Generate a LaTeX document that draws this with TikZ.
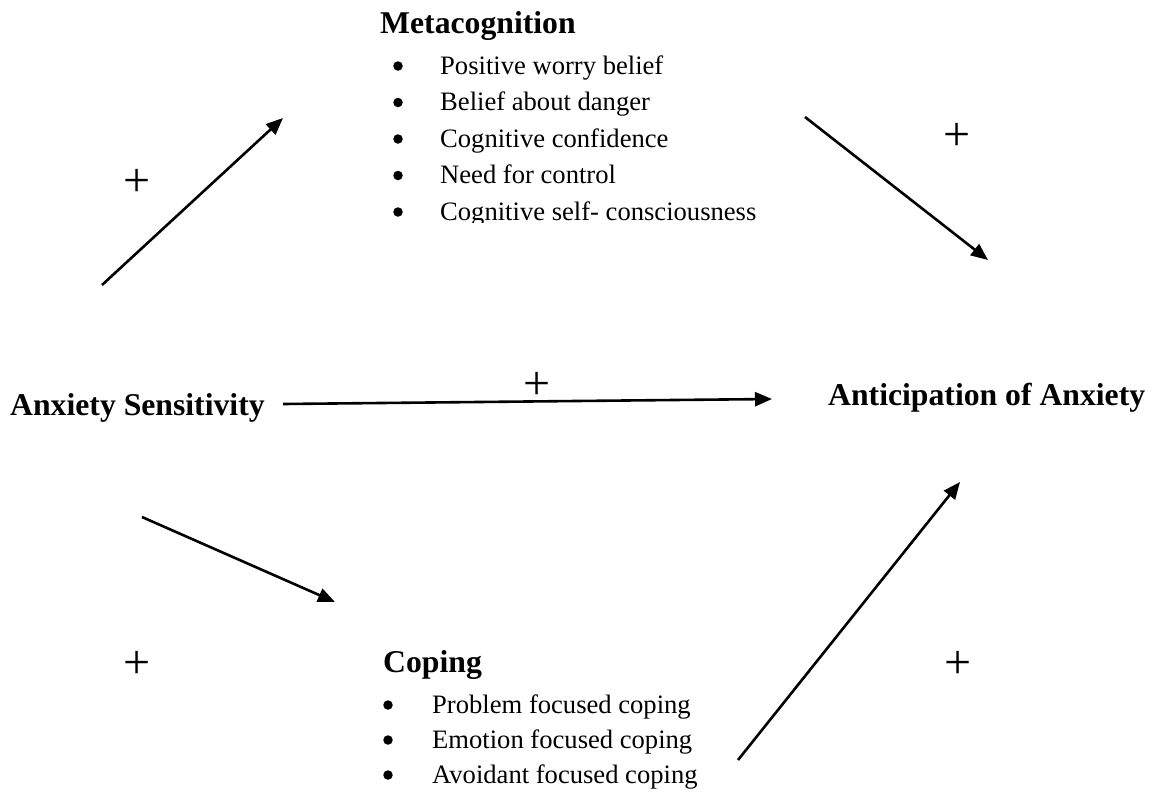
\documentclass[tikz,border=0pt]{standalone}
\usepackage{fontspec}
\setmainfont{Liberation Serif}
\usetikzlibrary{arrows.meta}
\tikzset{
  head/.style={anchor=base west, inner sep=0pt, font=\fontsize{31.7}{36}\selectfont\bfseries},
  item/.style={anchor=base west, inner sep=0pt, font=\fontsize{26.6}{31}\selectfont},
  bul/.style={circle, fill=black, inner sep=0pt, minimum size=9.5pt},
  plus/.style={inner sep=0pt, font=\fontsize{48}{50}\selectfont},
  arr/.style={line width=2.6pt, -{Triangle[length=17pt,width=14pt]}}
}
\begin{document}
\begin{tikzpicture}[x=1pt,y=-1pt]
\useasboundingbox (0,0) rectangle (1152,793);
% headings
\node[head] (meta) at (380,33) {Metacognition};
\node[head] (cop) at (383,672) {Coping};
\node[head] (as) at (10,415) {Anxiety Sensitivity};
\node[head] (aa) at (828,405) {Anticipation of Anxiety};
% metacognition list
\begin{scope}
\clip (370,0) rectangle (800,222);
\foreach \i/\t in {1/Positive worry belief,2/Belief about danger,3/Cognitive confidence,4/Need for control,5/Cognitive self- consciousness}{
  \node[bul] (mb\i) at (398,{74+36.5*(\i-1)-8}) {};
  \node[item] (m\i) at (440,{74+36.5*(\i-1)}) {\t};
}
\end{scope}
% coping list
\foreach \i/\t/\y in {1/Problem focused coping/713,2/Emotion focused coping/748,3/Avoidant focused coping/783}{
  \node[bul] (cb\i) at (388,\y-8) {};
  \node[item] (c\i) at (432,\y) {\t};
}
% plus signs
\node[plus] (p1) at (137,183) {+};
\node[plus] (p2) at (957,137) {+};
\node[plus] (p3) at (537,386) {+};
\node[plus] (p4) at (137,665) {+};
\node[plus] (p5) at (958,665) {+};
% connector ends
\coordinate (a1s) at (102,285); \coordinate (a1e) at (283,118);
\coordinate (a2s) at (805,117); \coordinate (a2e) at (988,260);
\coordinate (a3s) at (283,404); \coordinate (a3e) at (772,399);
\coordinate (a4s) at (142,517); \coordinate (a4e) at (335,602);
\coordinate (a5s) at (738,760); \coordinate (a5e) at (960,482);
\draw[arr] (a1s) -- (a1e);
\draw[arr] (a2s) -- (a2e);
\draw[arr] (a3s) -- (a3e);
\draw[arr] (a4s) -- (a4e);
\draw[arr] (a5s) -- (a5e);
\end{tikzpicture}
\end{document}
